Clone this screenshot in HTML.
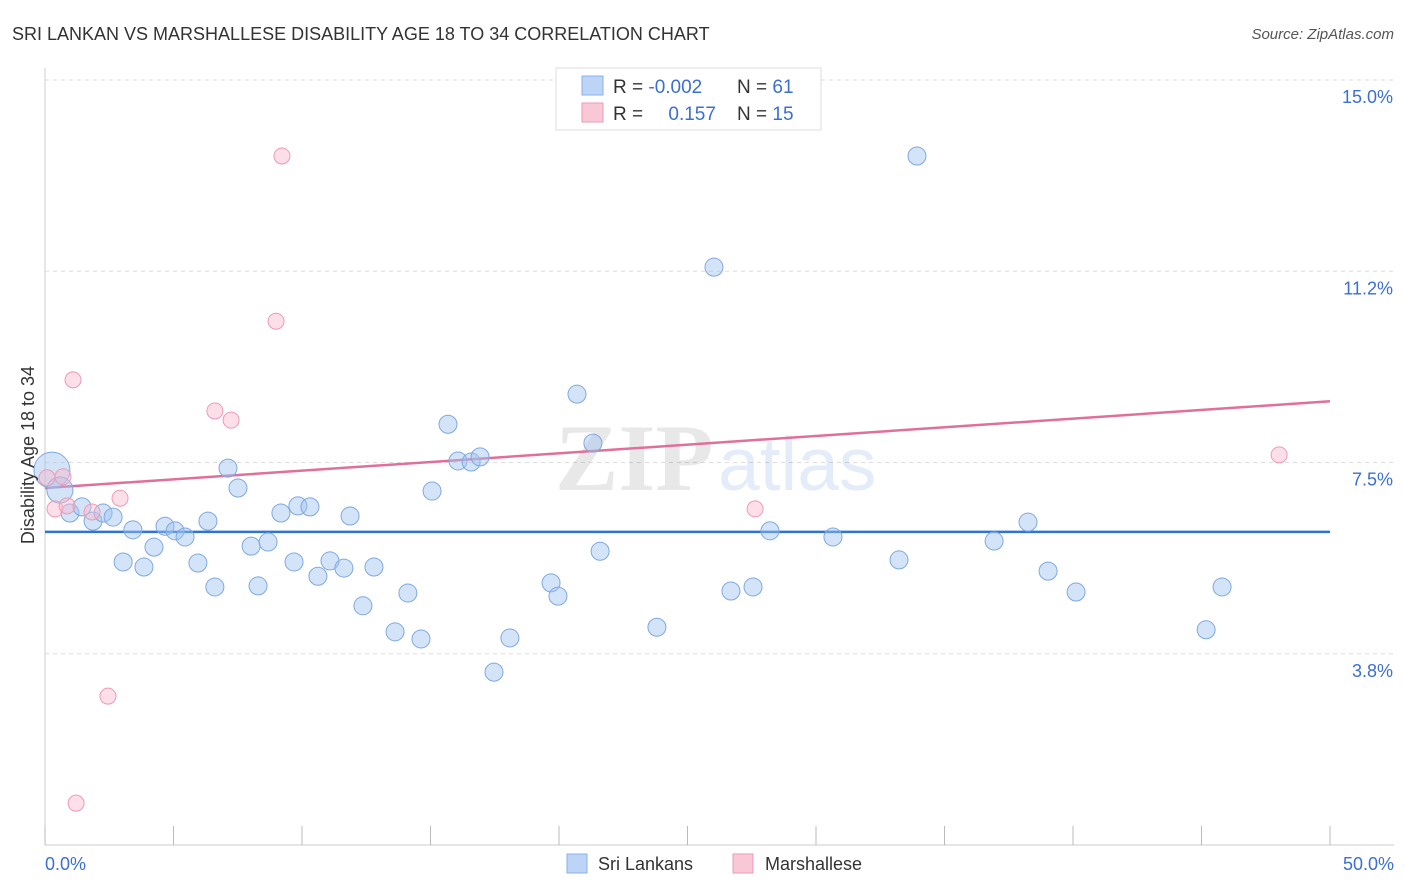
<!DOCTYPE html>
<html><head><meta charset="utf-8"><style>
body{margin:0;background:#fff;font-family:"Liberation Sans",sans-serif;}
svg{display:block}
</style></head><body>
<svg width="1406" height="892" viewBox="0 0 1406 892">
<text x="12" y="40" font-size="18" fill="#333">SRI LANKAN VS MARSHALLESE DISABILITY AGE 18 TO 34 CORRELATION CHART</text>
<text x="1394" y="39" font-size="15" fill="#555" font-style="italic" text-anchor="end">Source: ZipAtlas.com</text>
<g id="grid"></g>
<g opacity="0.13">
<text x="555" y="490" font-size="95" font-family="Liberation Serif,serif" fill="#555" font-weight="bold">ZIP</text>
<text x="718" y="490" font-size="75" fill="#3b6fd4">atlas</text>
</g>
<g id="trend"></g>
<g id="points"></g>
<text transform="translate(34,455) rotate(-90)" font-size="18" fill="#333" text-anchor="middle">Disability Age 18 to 34</text>
<text x="45" y="870" font-size="18" fill="#3b6fd4">0.0%</text>
<text x="1394" y="870" font-size="18" fill="#3b6fd4" text-anchor="end">50.0%</text>
<g>
<rect x="556" y="68" width="265" height="62" fill="#fff" stroke="#ddd"/>
<rect x="582" y="76" width="21" height="19" fill="#bcd4f6" stroke="#8ab0e8"/>
<rect x="582" y="103" width="21" height="19" fill="#f9c8d6" stroke="#ef9ab4"/>
<text x="613" y="93" font-size="19" fill="#333">R = <tspan fill="#3b6fd4">-0.002</tspan></text>
<text x="737" y="93" font-size="19" fill="#333">N = <tspan fill="#3b6fd4">61</tspan></text>
<text x="613" y="120" font-size="19" fill="#333">R = <tspan fill="#3b6fd4" dx="20">0.157</tspan></text>
<text x="737" y="120" font-size="19" fill="#333">N = <tspan fill="#3b6fd4">15</tspan></text>
</g>
<g>
<rect x="567" y="854" width="20" height="19" fill="#bcd4f6" stroke="#8ab0e8"/>
<text x="598" y="870" font-size="18" fill="#333">Sri Lankans</text>
<rect x="733" y="854" width="20" height="19" fill="#f9c8d6" stroke="#ef9ab4"/>
<text x="765" y="870" font-size="18" fill="#333">Marshallese</text>
</g>
</svg>
<script>
const yTicks=[3.8,7.5,11.2,15.0];
const yTickVals=[3.75,7.5,11.25,15.0];
const xTicks=[0,5,10,15,20,25,30,35,40,45,50];
const blueX=[0.27,0.58,0.97,1.44,1.87,2.26,2.65,3.04,3.42,3.85,4.24,4.67,5.06,5.45,5.95,6.34,6.61,7.12,7.51,8.02,8.29,8.68,9.18,9.69,9.84,10.31,10.62,11.09,11.63,11.87,12.37,12.80,13.62,14.12,14.63,15.06,15.68,16.07,16.58,16.93,17.47,18.09,19.69,19.96,20.70,21.32,21.60,23.81,26.03,26.69,27.55,28.21,30.66,33.23,33.93,36.93,38.25,39.03,40.12,45.18,45.80];
const blueY=[7.35,6.96,6.51,6.63,6.35,6.51,6.43,5.55,6.18,5.45,5.84,6.25,6.16,6.04,5.53,6.35,5.06,7.39,7.00,5.86,5.08,5.94,6.51,5.55,6.65,6.63,5.27,5.57,5.43,6.45,4.69,5.45,4.18,4.94,4.04,6.94,8.25,7.53,7.51,7.61,3.39,4.06,5.14,4.88,8.84,7.88,5.76,4.27,11.33,4.98,5.06,6.16,6.04,5.59,13.51,5.96,6.33,5.37,4.96,4.22,5.06];
const blueSize=[2,1.45];
const pinkX=[0.08,0.39,0.70,0.86,1.09,1.83,2.45,2.92,6.61,7.24,8.99,9.22,1.21,27.63,48.02];
const pinkY=[7.20,6.59,7.22,6.65,9.12,6.53,2.92,6.80,8.51,8.33,10.27,13.51,0.82,6.59,7.65];
const blueTrend=[6.14,6.14];
const pinkTrend=[7.0,8.7];
const NS="http://www.w3.org/2000/svg";
const X=v=>45+v/50*1285, Y=v=>845-v*51.0;
function mk(tag,attrs,parent){const e=document.createElementNS(NS,tag);for(const k in attrs)e.setAttribute(k,attrs[k]);document.getElementById(parent).appendChild(e);return e;}
let e;
e=mk('line',{x1:45,y1:68,x2:45,y2:845,stroke:'#ccc'},'grid');


e=mk('line',{x1:45,y1:845,x2:1394,y2:845,stroke:'#ccc'},'grid');


yTickVals.forEach((v,i)=>{
 e=mk('line',{x1:45,x2:1394,y1:Y(v),y2:Y(v),stroke:'#ddd','stroke-dasharray':'4,4'},'grid');
 
 
 e=mk('text',{x:1393,y:Y(v)+23,'font-size':18,fill:'#3b6fd4','text-anchor':'end'},'grid');
 e.textContent=yTicks[i].toFixed(1)+'%';
 
 
});
xTicks.forEach(v=>{
 e=mk('line',{x1:X(v),x2:X(v),y1:826,y2:845,stroke:'#bbb'},'grid');
 
 
});
e=mk('line',{x1:X(0),y1:Y(blueTrend[0]),x2:X(50),y2:Y(blueTrend[1]),stroke:'#2f74d0','stroke-width':2.5},'trend');


e=mk('line',{x1:X(0),y1:Y(pinkTrend[0]),x2:X(50),y2:Y(pinkTrend[1]),stroke:'#e0709a','stroke-width':2.5},'trend');


blueX.forEach((v,i)=>{
 const r=9*(blueSize[i]||1);
 e=mk('circle',{cx:X(v),cy:Y(blueY[i]),r:r,fill:'rgba(160,195,240,0.45)',stroke:'#7fa8e0','stroke-width':1},'points');
 
 
});
pinkX.forEach((v,i)=>{
 e=mk('circle',{cx:X(v),cy:Y(pinkY[i]),r:8,fill:'rgba(248,185,205,0.45)',stroke:'#ef9ab4','stroke-width':1},'points');
 
 
});
</script>
</body></html>
